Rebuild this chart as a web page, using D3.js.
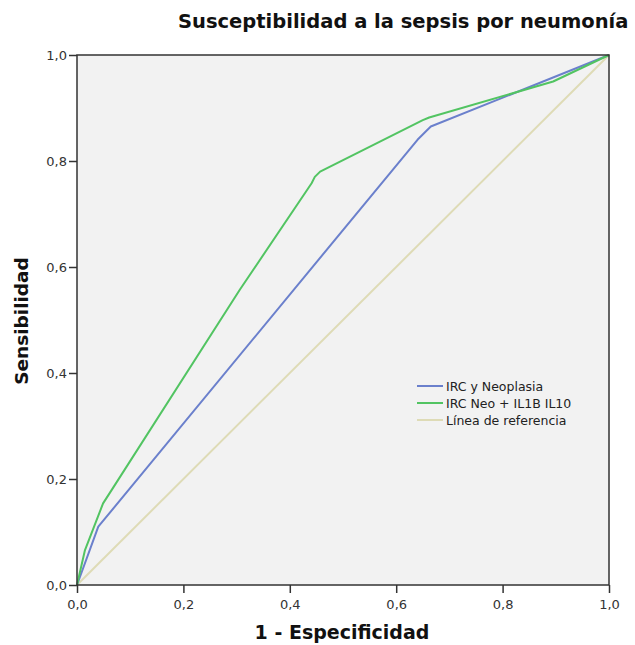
<!DOCTYPE html>
<html>
<head>
<meta charset="utf-8">
<script src="https://cdn.jsdelivr.net/npm/d3@7"></script>
<style>
  html, body { margin: 0; padding: 0; background: #fff; }
  svg { display: block; font-family: "DejaVu Sans", "Noto Sans", sans-serif; }
</style>
</head>
<body>
<svg id="chart" width="635" height="645"></svg>
<script>
// ROC curves: 1 - especificidad (x) vs. sensibilidad (y)
const tickValues = [0, 0.2, 0.4, 0.6, 0.8, 1.0];

const seriesNames = ["IRC y Neoplasia", "IRC Neo + IL1B IL10", "Línea de referencia"];
const seriesColors = ["#6b80cc", "#52c462", "#dedbb6"];

const ircNeoX = [0, 0.040, 0.640, 0.665, 1.0];
const ircNeoY = [0, 0.110, 0.840, 0.865, 1.0];

const ircIlX = [0, 0.015, 0.049, 0.065, 0.306, 0.441, 0.447, 0.457, 0.650, 0.662, 0.895, 1.0];
const ircIlY = [0, 0.066, 0.154, 0.179, 0.557, 0.758, 0.770, 0.780, 0.877, 0.882, 0.950, 1.0];

const refX = [0, 1];
const refY = [0, 1];

const svg = d3.select("#chart");
const plotL = 77, plotR = 609, plotT = 55, plotB = 585;

const x = d3.scaleLinear().domain([0, 1]).range([plotL, plotR]);
const y = d3.scaleLinear().domain([0, 1]).range([plotB, plotT]);
const fmt = d => d3.format(".1f")(d).replace(".", ",");

// plot background
svg.append("rect")
  .attr("x", plotL).attr("y", plotT)
  .attr("width", plotR - plotL).attr("height", plotB - plotT)
  .attr("fill", "#f2f2f2");

// curves (reference line first, underneath)
const line = d3.line().x(d => x(d[0])).y(d => y(d[1]));
const curves = [
  { pts: d3.zip(refX, refY), color: seriesColors[2] },
  { pts: d3.zip(ircNeoX, ircNeoY), color: seriesColors[0] },
  { pts: d3.zip(ircIlX, ircIlY), color: seriesColors[1] }
];
curves.forEach(c => {
  svg.append("path")
    .datum(c.pts)
    .attr("d", line)
    .attr("fill", "none")
    .attr("stroke", c.color)
    .attr("stroke-width", 2)
    .attr("stroke-linejoin", "round");
});

// frame
svg.append("rect")
  .attr("x", plotL).attr("y", plotT)
  .attr("width", plotR - plotL).attr("height", plotB - plotT)
  .attr("fill", "none").attr("stroke", "#333").attr("stroke-width", 1.5);

// axes
const xAxis = svg.append("g")
  .attr("transform", `translate(0,${plotB})`)
  .call(d3.axisBottom(x).tickValues(tickValues).tickFormat(fmt).tickSize(8).tickPadding(7));
const yAxis = svg.append("g")
  .attr("transform", `translate(${plotL},0)`)
  .call(d3.axisLeft(y).tickValues(tickValues).tickFormat(fmt).tickSize(8).tickPadding(2));
[xAxis, yAxis].forEach(g => {
  g.select(".domain").remove();
  g.selectAll(".tick line").attr("stroke", "#333").attr("stroke-width", 1.5);
  g.selectAll(".tick text")
    .attr("fill", "#333")
    .style("font-size", "13px")
    .style("font-family", "'DejaVu Sans', sans-serif");
});

// title and axis titles
svg.append("text")
  .attr("x", 178).attr("y", 28)
  .attr("text-anchor", "start")
  .style("font-size", "19.5px").style("font-weight", "bold")
  .attr("fill", "#111")
  .text("Susceptibilidad a la sepsis por neumonía");

svg.append("text")
  .attr("x", 342).attr("y", 639)
  .attr("text-anchor", "middle")
  .style("font-size", "19px").style("font-weight", "bold")
  .attr("fill", "#111")
  .text("1 - Especificidad");

svg.append("text")
  .attr("transform", `translate(28,321) rotate(-90)`)
  .attr("text-anchor", "middle")
  .style("font-size", "18.5px").style("font-weight", "bold")
  .attr("fill", "#111")
  .text("Sensibilidad");

// legend
const legend = svg.append("g");
seriesNames.forEach((name, i) => {
  const ly = 386 + i * 17;
  legend.append("line")
    .attr("x1", 417).attr("x2", 443)
    .attr("y1", ly).attr("y2", ly)
    .attr("stroke", seriesColors[i]).attr("stroke-width", 2);
  legend.append("text")
    .attr("x", 446).attr("y", ly + 4.5)
    .style("font-size", "12.5px")
    .attr("fill", "#222")
    .text(name);
});
</script>
</body>
</html>
